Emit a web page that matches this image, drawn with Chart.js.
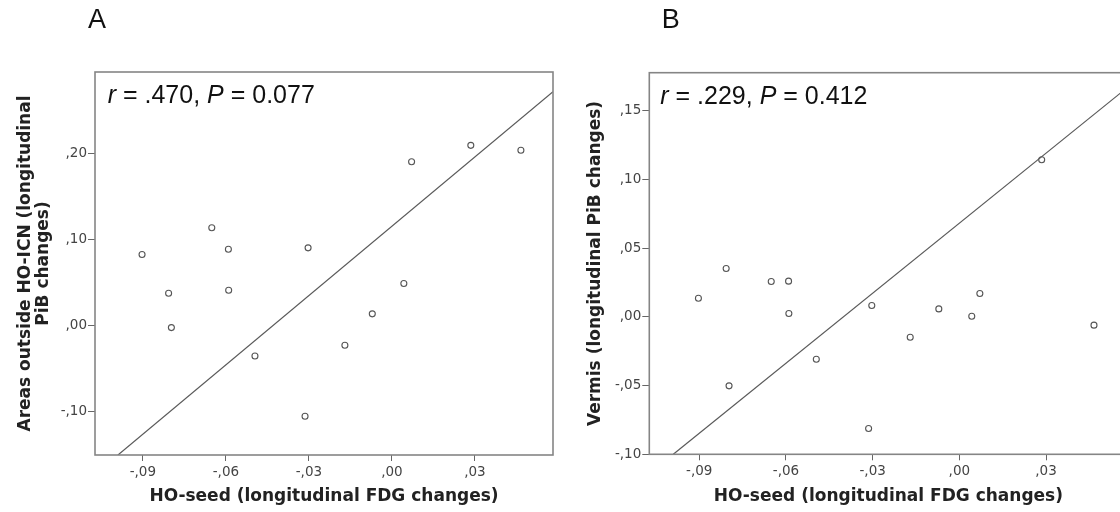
<!DOCTYPE html>
<html><head><meta charset="utf-8">
<script src="https://cdn.jsdelivr.net/npm/chart.js@4.4.1/dist/chart.umd.min.js"></script>
<style>
html,body{margin:0;padding:0;background:#fff;overflow:hidden;width:1120px;height:512px;}
#wrap{position:relative;width:1120px;height:512px;overflow:hidden;}
canvas{position:absolute;top:0;}
#cA{left:0;} #cB{left:560px;}
</style></head><body><div id="wrap"><canvas id="cA" width="560" height="512"></canvas><canvas id="cB" width="580" height="512"></canvas></div>
<script>
// Shared predictor: longitudinal FDG changes in HO-seed
const fdgChange = [-0.0903,-0.0807,-0.0797,-0.0651,-0.0591,-0.0590,-0.0495,-0.0303,-0.0314,-0.0170,-0.0071,0.0043,0.0071,0.0285,0.0466];
// Panel A: Areas outside HO-ICN (longitudinal PiB changes)
const pibOutsideICN = [0.083,0.038,-0.002,0.114,0.089,0.0415,-0.035,0.0907,-0.105,-0.0224,0.014,0.0493,0.1907,0.2098,0.204];
// Panel B: Vermis (longitudinal PiB changes)
const pibVermis = [0.0136,0.0352,-0.0502,0.0257,0.026,0.0025,-0.0308,0.0083,-0.0812,-0.0148,0.0058,0.0005,0.017,0.1143,-0.006];
// Fit lines (endpoints)
const fitLineX = [-0.099, 0.0582];
const fitLineA = [-0.15, 0.272];
const fitLineB = [-0.10, 0.167];
// Ticks
const xTicks = [-0.09,-0.06,-0.03,0,0.03];
const xTickLabels = ['-,09','-,06','-,03',',00',',03'];
const yTicksA = [-0.10,0,0.10,0.20];
const yTickLabelsA = ['-,10',',00',',10',',20'];
const yTicksB = [-0.10,-0.05,0,0.05,0.10,0.15];
const yTickLabelsB = ['-,10','-,05',',00',',05',',10',',15'];
// Axis ranges
const xRange = [-0.1073, 0.0582];
const yRangeA = [-0.15, 0.295];
const yRangeB = [-0.10, 0.1777];

const TICK_FONT = {family:'DejaVu Sans', size:13.5};
const TITLE_FONT = {family:'DejaVu Sans', size:17, weight:'bold', lineHeight:1.05};

function makeChart(id, c) {
  const deco = {
    id: 'deco',
    afterDatasetsDraw(chart) {
      const {ctx, chartArea: a} = chart;
      ctx.save();
      ctx.strokeStyle = '#858585';
      ctx.lineWidth = 1.6;
      ctx.strokeRect(a.left, a.top, a.right - a.left, a.bottom - a.top);
      // annotation
      ctx.fillStyle = '#111';
      ctx.textBaseline = 'alphabetic';
      let x = a.left + c.annX, y = a.top + 31;
      c.ann.forEach(p => {
        ctx.font = (p[1] ? 'italic ' : '') + '25px "Liberation Sans", Arial, sans-serif';
        ctx.fillText(p[0], x, y);
        x += ctx.measureText(p[0]).width;
      });
      // panel letter
      ctx.font = '27px "Liberation Sans", Arial, sans-serif';
      ctx.fillText(c.letter, c.letterX, 28.3);
      ctx.restore();
    }
  };
  return new Chart(document.getElementById(id), {
    type: 'scatter',
    data: {
      datasets: [
        {
          data: fitLineX.map((x, i) => ({x, y: c.fit[i]})),
          showLine: true, borderColor: '#5a5a5a', borderWidth: 1.2,
          pointRadius: 0, fill: false
        },
        {
          data: fdgChange.map((x, i) => ({x, y: c.ys[i]})),
          pointRadius: 3, pointBackgroundColor: 'rgba(255,255,255,0)',
          pointBorderColor: '#555', pointBorderWidth: 1.1
        }
      ]
    },
    options: {
      responsive: false, animation: false, devicePixelRatio: 1,
      layout: {padding: {left: 0, top: c.top, right: c.right, bottom: 0}},
      plugins: {legend: {display: false}, tooltip: {enabled: false}},
      scales: {
        x: {
          type: 'linear', min: xRange[0], max: xRange[1],
          afterBuildTicks: s => { s.ticks = xTicks.map(v => ({value: v})); },
          afterFit: s => { s.height = c.xH; },
          grid: {display: true, drawOnChartArea: false, drawTicks: true, tickLength: 6, color: '#666', lineWidth: 1},
          border: {display: false},
          ticks: {callback: (v, i) => xTickLabels[i], font: TICK_FONT, color: '#444', padding: 3, maxRotation: 0, autoSkip: false},
          title: {display: true, text: 'HO-seed (longitudinal FDG changes)', font: TITLE_FONT, color: '#222', padding: {top: 0, bottom: 6}}
        },
        y: {
          type: 'linear', min: c.yRange[0], max: c.yRange[1],
          afterBuildTicks: s => { s.ticks = c.yTicks.map(v => ({value: v})); },
          afterFit: s => { s.width = c.yW; },
          grid: {display: true, drawOnChartArea: false, drawTicks: true, tickLength: 7, color: '#666', lineWidth: 1},
          border: {display: false},
          ticks: {callback: (v, i) => c.yLabels[i], font: TICK_FONT, color: '#444', padding: 1, autoSkip: false},
          title: {display: true, text: c.yTitle, font: TITLE_FONT, color: '#222', padding: {top: c.yTitlePad, bottom: 0}}
        }
      }
    },
    plugins: [deco]
  });
}

makeChart('cA', {
  ys: pibOutsideICN, fit: fitLineA, yRange: yRangeA, yTicks: yTicksA, yLabels: yTickLabelsA,
  yTitle: ['Areas outside HO-ICN (longitudinal', 'PiB changes)'], yTitlePad: 16.5,
  top: 72, right: 7, xH: 57, yW: 95, annX: 12.7,
  ann: [['r', true], [' = .470, ', false], ['P', true], [' = 0.077', false]],
  letter: 'A', letterX: 88
});
makeChart('cB', {
  ys: pibVermis, fit: fitLineB, yRange: yRangeB, yTicks: yTicksB, yLabels: yTickLabelsB,
  yTitle: 'Vermis (longitudinal PiB changes)', yTitlePad: 27,
  top: 72.7, right: 12.5, xH: 57.7, yW: 89.3, annX: 11,
  ann: [['r', true], [' = .229, ', false], ['P', true], [' = 0.412', false]],
  letter: 'B', letterX: 101.7
});
</script></body></html>
